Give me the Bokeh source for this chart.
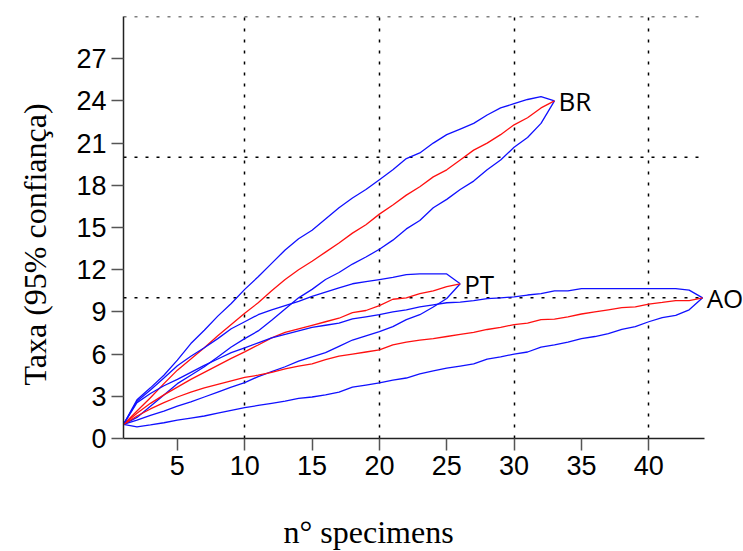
from bokeh.plotting import figure
from bokeh.models import FixedTicker, Range1d, ColumnDataSource, LabelSet, Title, LinearAxis
from bokeh.core.properties import value
from bokeh.embed import file_html
from bokeh.resources import INLINE

# number of specimens (x) per site
n_br = list(range(1, 34))
n_pt = list(range(1, 27))
n_ao = list(range(1, 45))

# BR rarefaction: mean and 95% confidence bounds
br_upper = [1.0, 2.75, 3.6, 4.5, 5.57, 6.75, 7.7, 8.7, 9.6, 10.6,
            11.5, 12.45, 13.4, 14.2, 14.8, 15.6, 16.4, 17.1, 17.7, 18.4,
            19.1, 19.9, 20.3, 21.0, 21.6, 22.0, 22.4, 23.0, 23.5, 23.8,
            24.1, 24.3, 24.0]
br_mean = [1.0, 1.95, 2.9, 3.9, 4.86, 5.65, 6.45, 7.3, 8.1, 8.9,
           9.65, 10.5, 11.3, 12.0, 12.6, 13.25, 13.9, 14.6, 15.2, 15.95,
           16.6, 17.3, 17.9, 18.6, 19.1, 19.8, 20.5, 21.0, 21.6, 22.3,
           22.8, 23.5, 24.0]
br_lower = [1.0, 1.5, 2.3, 3.1, 3.9, 4.5, 5.1, 5.8, 6.5, 7.1,
            7.65, 8.4, 9.2, 10.0, 10.6, 11.3, 11.8, 12.4, 12.9, 13.45,
            14.1, 14.9, 15.5, 16.4, 17.0, 17.7, 18.3, 19.1, 19.8, 20.7,
            21.4, 22.4, 24.0]

# PT rarefaction
pt_upper = [1.0, 2.65, 3.45, 4.3, 5.17, 5.85, 6.45, 7.1, 7.8, 8.3,
            8.8, 9.15, 9.45, 9.75, 10.1, 10.4, 10.7, 11.0, 11.15, 11.3,
            11.45, 11.65, 11.7, 11.7, 11.7, 11.0]
pt_mean = [1.0, 1.8, 2.5, 3.1, 3.65, 4.2, 4.7, 5.2, 5.7, 6.16,
           6.65, 7.15, 7.55, 7.8, 8.05, 8.3, 8.55, 8.95, 9.1, 9.45,
           9.9, 10.0, 10.3, 10.5, 10.8, 11.0]
pt_lower = [1.0, 1.3, 1.65, 1.95, 2.3, 2.6, 2.95, 3.3, 3.65, 3.97,
            4.4, 4.75, 5.1, 5.5, 5.8, 6.1, 6.55, 7.0, 7.3, 7.6,
            7.95, 8.45, 8.8, 9.35, 9.95, 11.0]

# AO rarefaction
ao_upper = [1.0, 2.55, 3.2, 3.75, 4.2, 4.7, 5.2, 5.65, 6.1, 6.45,
            6.8, 7.15, 7.4, 7.65, 7.9, 8.05, 8.2, 8.5, 8.65, 8.8,
            9.0, 9.15, 9.35, 9.5, 9.65, 9.7, 9.8, 9.95, 10.0, 10.07,
            10.2, 10.3, 10.5, 10.5, 10.65, 10.66, 10.66, 10.66, 10.66, 10.66,
            10.66, 10.66, 10.55, 10.0]
ao_mean = [1.0, 1.6, 2.1, 2.55, 2.95, 3.3, 3.6, 3.85, 4.1, 4.34,
           4.5, 4.7, 4.95, 5.15, 5.3, 5.6, 5.85, 6.0, 6.15, 6.3,
           6.65, 6.85, 7.0, 7.1, 7.25, 7.4, 7.55, 7.75, 7.9, 8.1,
           8.2, 8.45, 8.48, 8.65, 8.85, 9.0, 9.15, 9.3, 9.36, 9.55,
           9.67, 9.8, 9.8, 10.0]
ao_lower = [1.0, 0.83, 0.97, 1.12, 1.3, 1.45, 1.6, 1.8, 2.0, 2.2,
            2.35, 2.5, 2.65, 2.85, 2.95, 3.1, 3.3, 3.65, 3.8, 3.95,
            4.15, 4.3, 4.6, 4.8, 5.0, 5.15, 5.3, 5.65, 5.8, 6.0,
            6.15, 6.5, 6.65, 6.85, 7.1, 7.25, 7.45, 7.75, 7.95, 8.3,
            8.6, 8.75, 9.15, 10.0]

site_names = ["BR", "PT", "AO"]
x_ticks = [5, 10, 15, 20, 25, 30, 35, 40]
y_ticks = [0, 3, 6, 9, 12, 15, 18, 21, 24, 27]
x_grid = [10, 20, 30, 40]
y_grid = [10, 20, 30]
x_axis_span = (1, 44.15)
y_axis_span = (0, 30)
x_title = "n° specimens"
y_title = "Taxa (95% confiança)"

p = figure(width=743, height=551, output_backend="svg", toolbar_location=None,
           x_range=Range1d(1, 46.96), y_range=Range1d(*y_axis_span),
           min_border_left=123, min_border_right=1,
           min_border_top=16, min_border_bottom=113)
p.outline_line_color = None
p.background_fill_color = "white"
p.border_fill_color = "white"

# horizontal dotted reference lines (span only the axis extent)
p.ygrid.visible = False
p.segment(x0=[x_axis_span[0]] * len(y_grid), y0=y_grid,
          x1=[x_axis_span[1]] * len(y_grid), y1=y_grid,
          line_color="black", line_dash="3 8", line_width=1.5)

# vertical dotted grid
p.xgrid.ticker = FixedTicker(ticks=x_grid)
p.xgrid.grid_line_color = "black"
p.xgrid.grid_line_dash = "3 8"
p.xgrid.grid_line_width = 1.5

BLUE = "#1010ff"
RED = "#ff1010"
for xs, up, mn, lo in [(n_br, br_upper, br_mean, br_lower),
                       (n_pt, pt_upper, pt_mean, pt_lower),
                       (n_ao, ao_upper, ao_mean, ao_lower)]:
    p.line(xs, up, line_color=BLUE, line_width=1.3)
    p.line(xs, lo, line_color=BLUE, line_width=1.3)
    p.line(xs, mn, line_color=RED, line_width=1.3)

lab_src = ColumnDataSource(dict(
    x=[n_br[-1], n_pt[-1], n_ao[-1]],
    y=[br_mean[-1], pt_mean[-1], ao_mean[-1]],
    t=site_names))
p.add_layout(LabelSet(x="x", y="y", text="t", source=lab_src,
                      x_offset=4, y_offset=0, text_baseline="middle",
                      text_font=value("Open Sans"), text_font_size=value("26px"),
                      text_color="black"))

# axes
p.xaxis.ticker = FixedTicker(ticks=x_ticks)
p.yaxis.ticker = FixedTicker(ticks=y_ticks)
p.xaxis.bounds = x_axis_span
p.yaxis.bounds = y_axis_span
for ax in (p.xaxis[0], p.yaxis[0]):
    ax.axis_line_color = "#222222"
    ax.axis_line_width = 1.5
    ax.major_tick_line_color = "#555555"
    ax.major_tick_line_width = 1.5
    ax.major_tick_out = 12
    ax.major_tick_in = 0
    ax.minor_tick_line_color = None
    ax.major_label_text_font = "Liberation Sans"
    ax.major_label_text_font_size = "27px"
    ax.major_label_text_color = "black"
    ax.major_label_standoff = 5

# blank spacer axes (one white tick, empty label) that push the titles outward
def spacer(size, pos):
    return LinearAxis(ticker=FixedTicker(ticks=[pos]), axis_line_color=None,
                      major_tick_out=size, major_tick_in=0,
                      major_tick_line_color="white",
                      minor_tick_line_color=None, major_label_standoff=0,
                      major_label_overrides={pos: ""},
                      major_label_text_font_size="1px")

p.add_layout(spacer(34, 2), "below")
p.add_layout(spacer(21, 0.5), "left")

# axis titles placed as side titles so they can be offset along the axis
xt = Title(text=x_title, align="left", offset=160, standoff=0,
           text_font="Liberation Serif", text_font_size="32px",
           text_font_style="normal", text_color="black")
p.add_layout(xt, "below")
yt = Title(text=y_title, align="left", offset=53, standoff=0,
           text_font="Liberation Serif", text_font_size="32px",
           text_font_style="normal", text_color="black")
p.add_layout(yt, "left")

open("out.html", "w").write(file_html(p, INLINE))
